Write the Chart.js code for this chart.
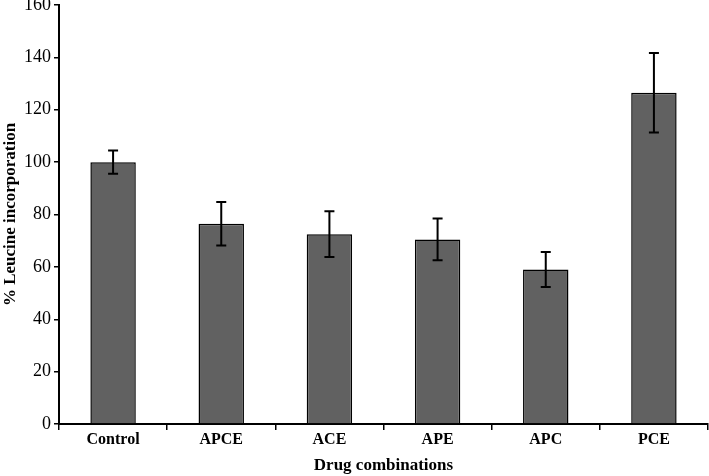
<!DOCTYPE html>
<html lang="en">
<head>
    <meta charset="UTF-8">
    <title>Leucine incorporation by drug combination</title>
    <style>
        body {
            margin: 0;
            padding: 0;
            background: #fff;
        }
        .wrap {
            width: 709px;
            height: 476px;
            position: relative;
        }
    </style>
</head>
<body>
    <div class="wrap">
        <canvas id="chart"></canvas>
    </div>

    <script src="https://cdn.jsdelivr.net/npm/chart.js"></script>
    <script>
        // Data
        const categories = ['Control', 'APCE', 'ACE', 'APE', 'APC', 'PCE'];
        const leucine = [100, 76.5, 72.5, 70.5, 59, 126.5];
        const errors = [4.4, 8.3, 8.7, 8, 6.7, 15.2];
        const yTicks = [0, 20, 40, 60, 80, 100, 120, 140, 160];

        const serif = "'Liberation Serif', 'Times New Roman', serif";

        // Draws the +/- error whiskers on top of each bar
        const errorBars = {
            id: 'errorBars',
            afterDatasetsDraw(chart) {
                const ctx = chart.ctx;
                const y = chart.scales.y;
                const meta = chart.getDatasetMeta(0);
                ctx.save();
                ctx.strokeStyle = '#000';
                ctx.lineWidth = 2;
                meta.data.forEach((bar, i) => {
                    const top = y.getPixelForValue(leucine[i] + errors[i]);
                    const bottom = y.getPixelForValue(leucine[i] - errors[i]);
                    const cap = 5;
                    ctx.beginPath();
                    ctx.moveTo(bar.x, top);
                    ctx.lineTo(bar.x, bottom);
                    ctx.moveTo(bar.x - cap, top);
                    ctx.lineTo(bar.x + cap, top);
                    ctx.moveTo(bar.x - cap, bottom);
                    ctx.lineTo(bar.x + cap, bottom);
                    ctx.stroke();
                });
                ctx.restore();
            }
        };

        new Chart(document.getElementById('chart'), {
            type: 'bar',
            data: {
                labels: categories,
                datasets: [{
                    data: leucine,
                    backgroundColor: '#616161',
                    borderColor: '#000',
                    borderWidth: 1.5,
                    categoryPercentage: 1,
                    barPercentage: 0.42
                }]
            },
            options: {
                responsive: true,
                maintainAspectRatio: false,
                animation: false,
                layout: { padding: { top: 5, right: 1, left: 0, bottom: 0 } },
                plugins: {
                    legend: { display: false },
                    tooltip: { enabled: false }
                },
                scales: {
                    x: {
                        grid: {
                            display: true,
                            drawOnChartArea: false,
                            drawTicks: true,
                            tickLength: 6,
                            color: '#000',
                            lineWidth: 1.5
                        },
                        border: { color: '#000', width: 2 },
                        ticks: {
                            color: '#000',
                            padding: 0,
                            font: { family: serif, size: 16, weight: 'bold' }
                        },
                        title: {
                            display: true,
                            text: 'Drug combinations',
                            color: '#000',
                            padding: { top: 4, bottom: 0 },
                            font: { family: serif, size: 17, weight: 'bold' }
                        },
                        afterFit(scale) { scale.height = 52; }
                    },
                    y: {
                        min: 0,
                        max: 160,
                        afterBuildTicks(scale) {
                            scale.ticks = yTicks.map(v => ({ value: v }));
                        },
                        grid: {
                            display: true,
                            drawOnChartArea: false,
                            drawTicks: true,
                            tickLength: 5,
                            color: '#000',
                            lineWidth: 1.5
                        },
                        border: { color: '#000', width: 2 },
                        ticks: {
                            color: '#000',
                            padding: 3,
                            font: { family: serif, size: 18 }
                        },
                        title: {
                            display: true,
                            text: '% Leucine incorporation',
                            color: '#000',
                            padding: { top: 0, bottom: 2 },
                            font: { family: serif, size: 17, weight: 'bold' }
                        },
                        afterFit(scale) {
                            scale.width = 59;
                            scale.paddingTop = 0;
                            scale.paddingBottom = 0;
                        }
                    }
                }
            },
            plugins: [errorBars]
        });
    </script>
</body>
</html>
